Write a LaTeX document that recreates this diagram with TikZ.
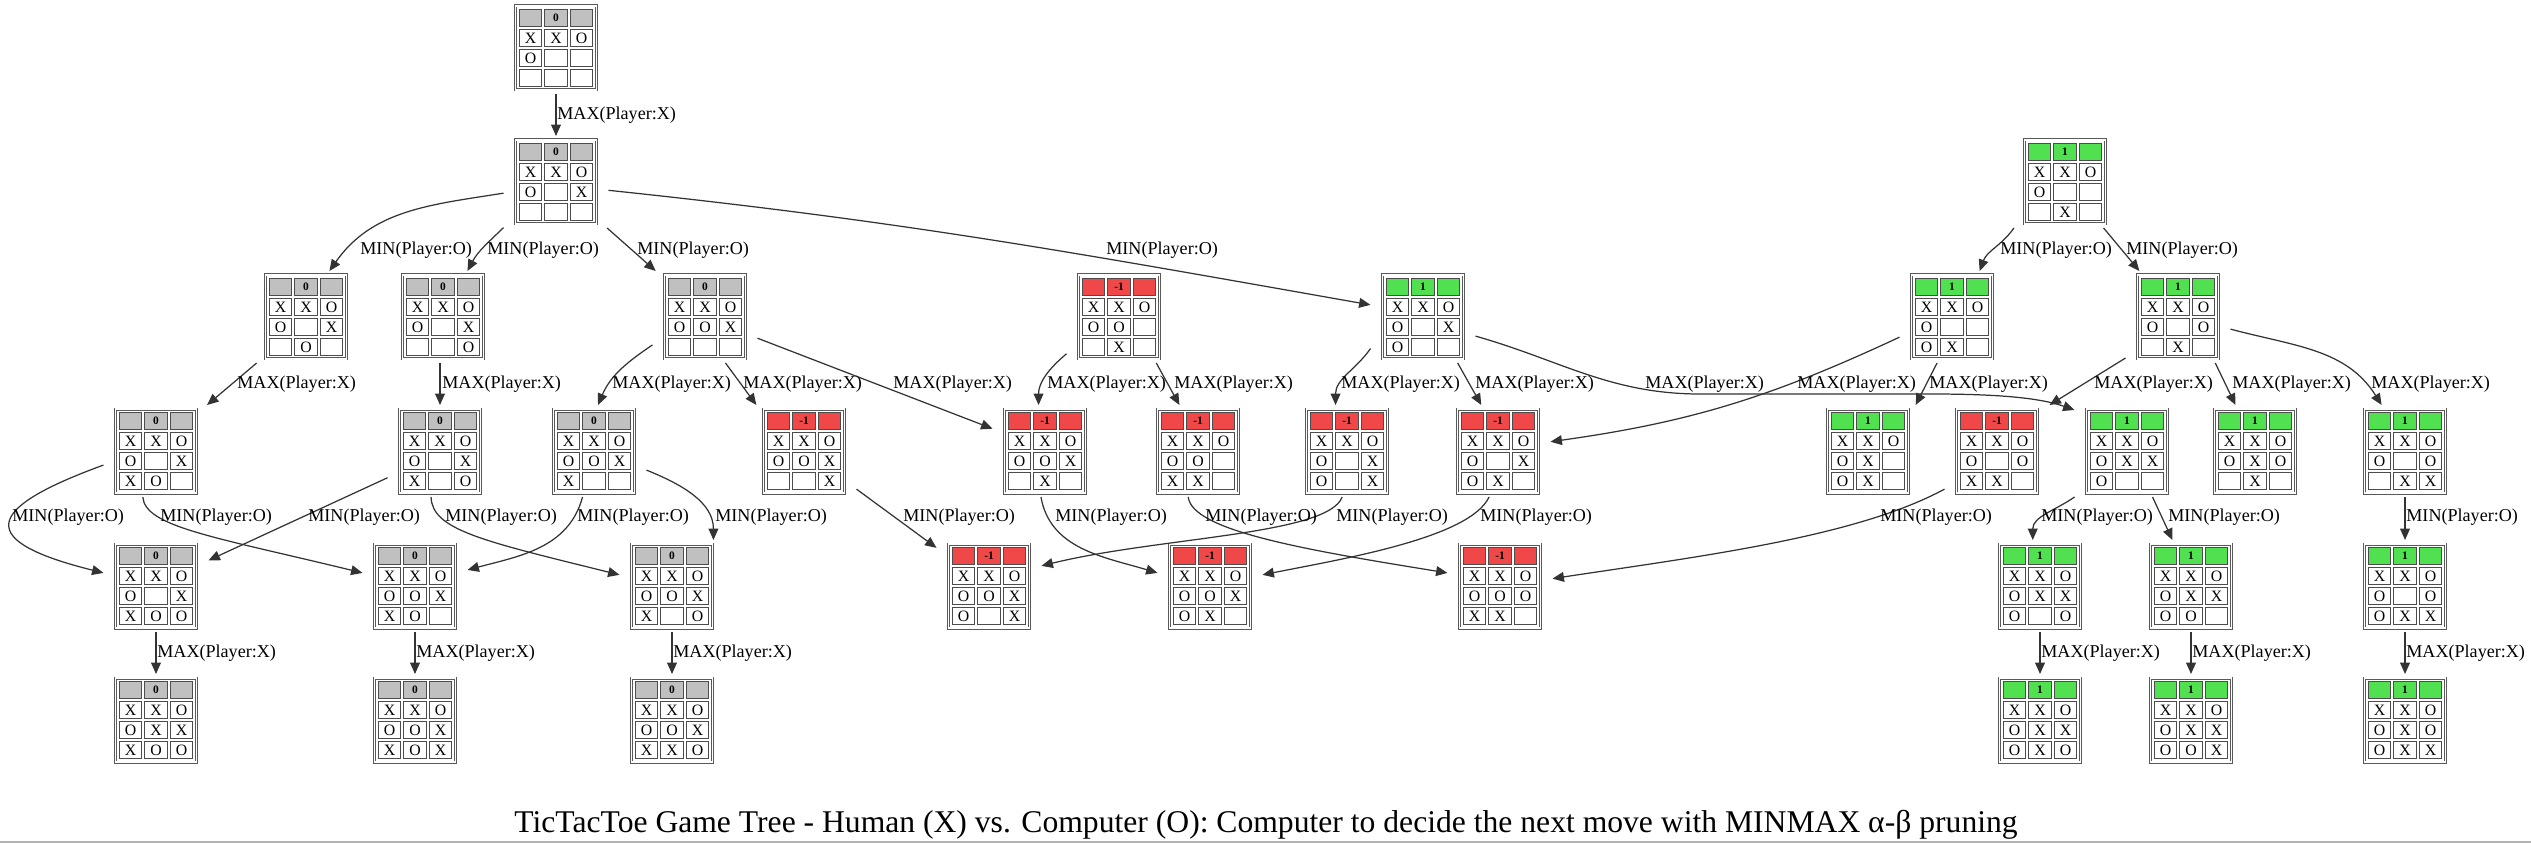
\documentclass[tikz,border=0pt]{standalone}
\usepackage{fontspec}
\setmainfont{Liberation Serif}
\usetikzlibrary{arrows.meta}
\newdimen\unitpx \unitpx=0.02cm % one pixel of the picture
\definecolor{tie}{RGB}{192,192,192}
\definecolor{lose}{RGB}{240,72,72}
\definecolor{win}{RGB}{80,224,80}
\tikzset{board/.style={ % frame of one board
            rectangle, minimum width=81\unitpx, minimum height=84\unitpx,
            inner sep=0pt, outer xsep=12\unitpx, outer ysep=4\unitpx,
            draw=black!65, line width=0.9\unitpx, double=white, double distance=1.2\unitpx},
        cell/.style={ % one square of the board
            rectangle, minimum width=22.5\unitpx, minimum height=17.3\unitpx,
            inner sep=0pt, draw=black!70, line width=0.9\unitpx, fill=white,
            font=\fontsize{9}{9}\selectfont},
        hcell/.style={cell, font=\fontsize{6.5}{6.5}\selectfont\bfseries}, % score row
        lbl/.style={anchor=west, inner sep=0pt, font=\fontsize{10.3}{12}\selectfont},
        move/.style={draw, -{Triangle[length=6.5pt,width=5.6pt]}, line width=0.7pt, black!80},
        every edge/.style={move} % every transition
        }
% name, position, colour, score, nine marks
\newcommand{\gameboard}[5]{%
    \node[board] (#1) at (#2) {};
    \node[hcell, fill=#3] (#1-h0) at ([shift={(-25.5,30)}]#1.center) {};
    \node[hcell, fill=#3] (#1-h1) at ([shift={(0,30)}]#1.center) {#4};
    \node[hcell, fill=#3] (#1-h2) at ([shift={(25.5,30)}]#1.center) {};
    \foreach \m [count=\k from 0] in {#5} {
        \pgfmathtruncatemacro\cc{mod(\k,3)-1}
        \pgfmathtruncatemacro\rr{div(\k,3)}
        \node[cell] (#1-\k) at ([shift={(\cc*25.5,10-20*\rr)}]#1.center) {\m};
    }}
\begin{document}
\begin{tikzpicture}[x=\unitpx, y=\unitpx]
    \path[use as bounding box, fill=white] (0,0) rectangle (2531,-844);

    % boards
    \gameboard{root}{556,-48}{tie}{0}{X,X,O,O,{},{},{},{},{}}
    \gameboard{r1}{556,-182}{tie}{0}{X,X,O,O,{},X,{},{},{}}
    \gameboard{g}{2065,-182}{win}{1}{X,X,O,O,{},{},{},X,{}}

    \gameboard{a}{306,-317}{tie}{0}{X,X,O,O,{},X,{},O,{}}
    \gameboard{b}{443,-317}{tie}{0}{X,X,O,O,{},X,{},{},O}
    \gameboard{c}{705,-317}{tie}{0}{X,X,O,O,O,X,{},{},{}}
    \gameboard{d}{1119,-317}{lose}{-1}{X,X,O,O,O,{},{},X,{}}
    \gameboard{e}{1423,-317}{win}{1}{X,X,O,O,{},X,O,{},{}}
    \gameboard{h}{1952,-317}{win}{1}{X,X,O,O,{},{},O,X,{}}
    \gameboard{i}{2178,-317}{win}{1}{X,X,O,O,{},O,{},X,{}}

    \gameboard{a1}{156,-451}{tie}{0}{X,X,O,O,{},X,X,O,{}}
    \gameboard{b1}{440,-451}{tie}{0}{X,X,O,O,{},X,X,{},O}
    \gameboard{c1}{594,-451}{tie}{0}{X,X,O,O,O,X,X,{},{}}
    \gameboard{c2}{804,-451}{lose}{-1}{X,X,O,O,O,X,{},{},X}
    \gameboard{c3}{1045,-451}{lose}{-1}{X,X,O,O,O,X,{},X,{}}
    \gameboard{d2}{1198,-451}{lose}{-1}{X,X,O,O,O,{},X,X,{}}
    \gameboard{e1}{1347,-451}{lose}{-1}{X,X,O,O,{},X,O,{},X}
    \gameboard{e2}{1498,-451}{lose}{-1}{X,X,O,O,{},X,O,X,{}}
    \gameboard{h1}{1868,-451}{win}{1}{X,X,O,O,X,{},O,X,{}}
    \gameboard{i1}{1997,-451}{lose}{-1}{X,X,O,O,{},O,X,X,{}}
    \gameboard{e3}{2127,-451}{win}{1}{X,X,O,O,X,X,O,{},{}}
    \gameboard{i2}{2255,-451}{win}{1}{X,X,O,O,X,O,{},X,{}}
    \gameboard{i3}{2405,-451}{win}{1}{X,X,O,O,{},O,{},X,X}

    \gameboard{a2}{156,-586}{tie}{0}{X,X,O,O,{},X,X,O,O}
    \gameboard{b2}{415,-586}{tie}{0}{X,X,O,O,O,X,X,O,{}}
    \gameboard{c4}{672,-586}{tie}{0}{X,X,O,O,O,X,X,{},O}
    \gameboard{d3}{989,-586}{lose}{-1}{X,X,O,O,O,X,O,{},X}
    \gameboard{d4}{1210,-586}{lose}{-1}{X,X,O,O,O,X,O,X,{}}
    \gameboard{d5}{1500,-586}{lose}{-1}{X,X,O,O,O,O,X,X,{}}
    \gameboard{e4}{2040,-586}{win}{1}{X,X,O,O,X,X,O,{},O}
    \gameboard{e5}{2191,-586}{win}{1}{X,X,O,O,X,X,O,O,{}}
    \gameboard{i4}{2405,-586}{win}{1}{X,X,O,O,{},O,O,X,X}

    \gameboard{a3}{156,-720}{tie}{0}{X,X,O,O,X,X,X,O,O}
    \gameboard{b3}{415,-720}{tie}{0}{X,X,O,O,O,X,X,O,X}
    \gameboard{c5}{672,-720}{tie}{0}{X,X,O,O,O,X,X,X,O}
    \gameboard{e6}{2040,-720}{win}{1}{X,X,O,O,X,X,O,X,O}
    \gameboard{e7}{2191,-720}{win}{1}{X,X,O,O,X,X,O,O,X}
    \gameboard{i5}{2405,-720}{win}{1}{X,X,O,O,X,O,O,X,X}

    % moves of X from the start
    \draw (root.south) edge (r1.north);
    \node[lbl] (l-root) at (557,-115) {MAX(Player:X)};

    % moves of O
    \draw (r1.192) edge[out=189,in=55] (a.63);
    \draw (r1.221) edge[out=224,in=62] (b.62);
    \draw (r1.318) edge (c.137);
    \draw (r1.-9) edge[out=-6,in=170] (e.167);
    \draw (g.222) edge[out=235,in=70] (h.59);
    \draw (g.-50) edge (i.130);
    \node[lbl] (l-r1-a) at (360,-250) {MIN(Player:O)};
    \node[lbl] (l-r1-b) at (487,-250) {MIN(Player:O)};
    \node[lbl] (l-r1-c) at (637,-250) {MIN(Player:O)};
    \node[lbl] (l-r1-e) at (1106,-250) {MIN(Player:O)};
    \node[lbl] (l-g-h) at (2000,-250) {MIN(Player:O)};
    \node[lbl] (l-g-i) at (2126,-250) {MIN(Player:O)};

    % moves of X
    \draw (a.223) edge (a1.42);
    \draw (b.south -| b1.north) edge (b1.north);
    \draw (c.208) edge[out=214,in=67] (c1.85);
    \draw (c.-66) edge (c2.136);
    \draw (c.-22) edge (c3.157);
    \draw (d.215) edge[out=220,in=90] (c3.98);
    \draw (d.-51) edge (d2.112);
    \draw (e.211) edge[out=235,in=90] (e1.104);
    \draw (e.-53) edge (e2.110);
    \draw[move] (e.-20) .. controls (1560,-360) and (1610,-394) .. (1700,-394)
        -- (1930,-394) .. controls (2000,-394) and (2040,-398) .. (e3.142);
    \draw (h.201) edge[out=205,in=8] (e2.10);
    \draw (h.252) edge (h1.44);
    \draw (i.218) edge (i1.north east);
    \draw (i.-51) edge (i2.113);
    \draw (i.-13) edge[out=-15,in=122] (i3.117);
    \node[lbl] (l-a-a1) at (237,-384) {MAX(Player:X)};
    \node[lbl] (l-b-b1) at (442,-384) {MAX(Player:X)};
    \node[lbl] (l-c-c1) at (612,-384) {MAX(Player:X)};
    \node[lbl] (l-c-c2) at (743,-384) {MAX(Player:X)};
    \node[lbl] (l-c-c3) at (893,-384) {MAX(Player:X)};
    \node[lbl] (l-d-c3) at (1047,-384) {MAX(Player:X)};
    \node[lbl] (l-d-d2) at (1174,-384) {MAX(Player:X)};
    \node[lbl] (l-e-e1) at (1341,-384) {MAX(Player:X)};
    \node[lbl] (l-e-e2) at (1475,-384) {MAX(Player:X)};
    \node[lbl] (l-e-e3) at (1645,-384) {MAX(Player:X)};
    \node[lbl] (l-h-e2) at (1797,-384) {MAX(Player:X)};
    \node[lbl] (l-h-h1) at (1929,-384) {MAX(Player:X)};
    \node[lbl] (l-i-i1) at (2094,-384) {MAX(Player:X)};
    \node[lbl] (l-i-i2) at (2232,-384) {MAX(Player:X)};
    \node[lbl] (l-i-i3) at (2371,-384) {MAX(Player:X)};

    % moves of O
    \draw (a1.195) edge[out=200,in=166,looseness=3.1] (a2.166);
    \draw[move] (a1.254) .. controls (145,-527) and (215,-537) .. (b2.166);
    \draw (b1.207) edge (a2.26);
    \draw[move] (b1.259) .. controls (432,-530) and (483,-541) .. (c4.168);
    \draw (c1.256) edge[out=255,in=15] (b2.17);
    \draw (c1.-20) edge[out=-22,in=90] (c4.48);
    \draw (c2.-36) edge (d3.144);
    \draw[move] (c3.265) .. controls (1050,-549) and (1104,-557) .. (d4.166);
    \draw[move] (d2.258) .. controls (1192,-530) and (1299,-549) .. (d5.166);
    \draw[move] (e1.264) .. controls (1328,-535) and (1159,-537) .. (d3.21);
    \draw[move] (e2.259) .. controls (1470,-538) and (1342,-559) .. (d4.12);
    \draw[move] (i1.216) .. controls (1856,-537) and (1702,-556) .. (d5.8);
    \draw (e3.south west) edge[out=215,in=90] (e4.99);
    \draw (e3.-61) edge (e5.112);
    \draw (i3.south) edge (i4.north);
    \node[lbl] (l-a1-a2) at (12,-517) {MIN(Player:O)};
    \node[lbl] (l-a1-b2) at (160,-517) {MIN(Player:O)};
    \node[lbl] (l-b1-a2) at (308,-517) {MIN(Player:O)};
    \node[lbl] (l-b1-c4) at (445,-517) {MIN(Player:O)};
    \node[lbl] (l-c1-b2) at (577,-517) {MIN(Player:O)};
    \node[lbl] (l-c1-c4) at (715,-517) {MIN(Player:O)};
    \node[lbl] (l-c2-d3) at (903,-517) {MIN(Player:O)};
    \node[lbl] (l-c3-d4) at (1055,-517) {MIN(Player:O)};
    \node[lbl] (l-d2-d5) at (1205,-517) {MIN(Player:O)};
    \node[lbl] (l-e1-d3) at (1336,-517) {MIN(Player:O)};
    \node[lbl] (l-e2-d4) at (1480,-517) {MIN(Player:O)};
    \node[lbl] (l-i1-d5) at (1880,-517) {MIN(Player:O)};
    \node[lbl] (l-e3-e4) at (2041,-517) {MIN(Player:O)};
    \node[lbl] (l-e3-e5) at (2168,-517) {MIN(Player:O)};
    \node[lbl] (l-i3-i4) at (2406,-517) {MIN(Player:O)};

    % last moves of X
    \draw (a2.south) edge (a3.north);
    \draw (b2.south) edge (b3.north);
    \draw (c4.south) edge (c5.north);
    \draw (e4.south) edge (e6.north);
    \draw (e5.south) edge (e7.north);
    \draw (i4.south) edge (i5.north);
    \node[lbl] (l-a2-a3) at (157,-653) {MAX(Player:X)};
    \node[lbl] (l-b2-b3) at (416,-653) {MAX(Player:X)};
    \node[lbl] (l-c4-c5) at (673,-653) {MAX(Player:X)};
    \node[lbl] (l-e4-e6) at (2041,-653) {MAX(Player:X)};
    \node[lbl] (l-e5-e7) at (2192,-653) {MAX(Player:X)};
    \node[lbl] (l-i4-i5) at (2406,-653) {MAX(Player:X)};

    % caption
    \node[font=\fontsize{18}{20}\selectfont, inner sep=0pt] (title) at (1266,-825)
        {TicTacToe Game Tree - Human (X) vs. Computer (O): Computer to decide the next move with MINMAX α-β pruning};
    \draw[black!30, line width=2\unitpx] (0,-842) -- (2531,-842);
\end{tikzpicture}
\end{document}
